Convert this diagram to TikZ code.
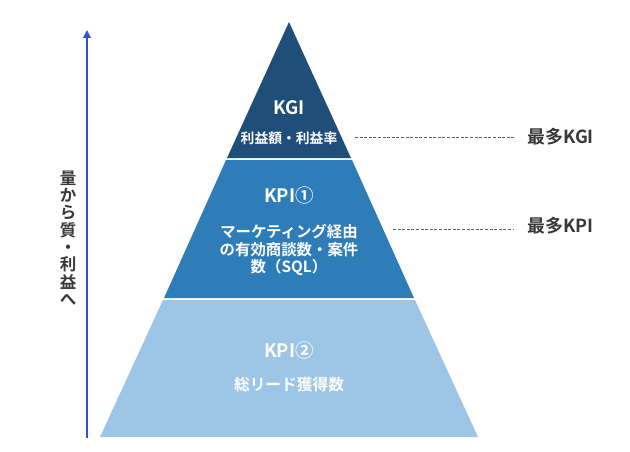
\documentclass[tikz,border=0pt]{standalone}
\usepackage{fontspec}
\newfontfamily\jp{Noto Sans CJK JP}[BoldFont={* Bold}]
\setmainfont{Noto Sans CJK JP}
\definecolor{topc}{HTML}{1F4E79}
\definecolor{midc}{HTML}{2E7DB8}
\definecolor{botc}{HTML}{9DC6E6}
\definecolor{txtc}{HTML}{383838}
\definecolor{arrc}{HTML}{2F52D8}
\usetikzlibrary{arrows.meta}
\tikzset{
  intext/.style={text=white,font=\jp\bfseries,align=center,inner sep=0pt},
  sidelabel/.style={text=txtc,font=\jp\bfseries\fontsize{18}{20}\selectfont,anchor=west,inner sep=0pt},
  leader/.style={draw=gray!75!black,dashed,dash pattern=on 3pt off 1.6pt,line width=0.9pt}
}
\begin{document}
\begin{tikzpicture}[x=1pt,y=-1pt]
\useasboundingbox (0,0) rectangle (630,452);
% layers
\fill[topc] (289,22) -- (227,158) -- (351,158) -- cycle;
\fill[midc] (226,160) -- (352,160) -- (414,298) -- (164,298) -- cycle;
\fill[botc] (163,300) -- (415,300) -- (478,437) -- (100,437) -- cycle;
% texts
\node[intext,font=\jp\bfseries\fontsize{18.5}{20}\selectfont] (kgi) at (289,108) {KGI};
\node[intext,font=\jp\bfseries\fontsize{13.8}{16}\selectfont] (kgit) at (289,138) {利益額・利益率};
\node[intext,font=\jp\bfseries\fontsize{18.5}{20}\selectfont] (kpi1) at (289,195) {KPI①};
\node[intext,font=\jp\bfseries\fontsize{15.4}{17.5}\selectfont] (kpi1t) at (289,250) {マーケティング経由\\の有効商談数・案件\\数（SQL）};
\node[intext,font=\jp\bfseries\fontsize{18.5}{20}\selectfont] (kpi2) at (289,350) {KPI②};
\node[intext,font=\jp\bfseries\fontsize{15.7}{18}\selectfont] (kpi2t) at (289,385) {総リード獲得数};
% side labels
\node[sidelabel] (mkgi) at (527,137) {最多KGI};
\node[sidelabel] (mkpi) at (527,226) {最多KPI};
\coordinate (l1) at (355,137);
\coordinate (l2) at (393,229);
\draw[leader] (l1) -- (515,137);
\draw[leader] (l2) -- (513,229);
% arrow
\coordinate (abot) at (87,438);
\coordinate (atop) at (87,30);
\draw[arrc,line width=2.3pt,-{Triangle[length=8pt,width=7.5pt]}] (abot) -- (atop);
\node[text=txtc,font=\jp\bfseries\fontsize{16.5}{17.3}\selectfont,align=center,inner sep=0pt] (vt) at (68,238) {量\\か\\ら\\質\\・\\利\\益\\へ};
\end{tikzpicture}
\end{document}
